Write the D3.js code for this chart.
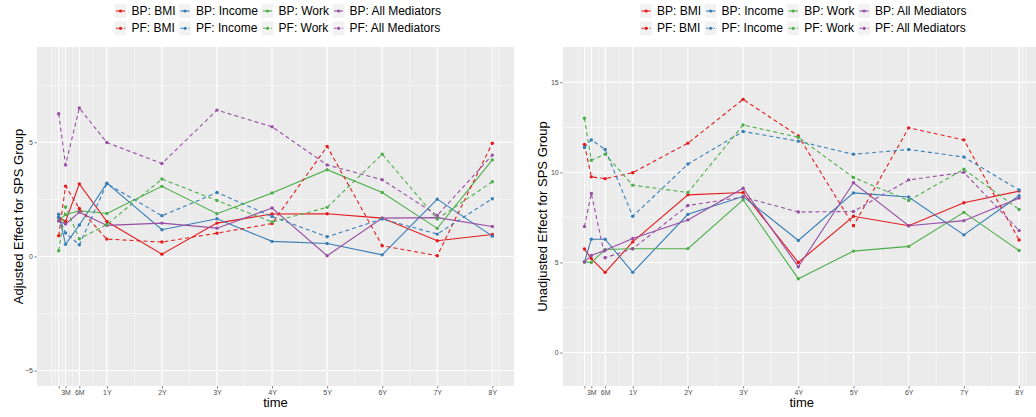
<!DOCTYPE html>
<html>
<head>
<meta charset="utf-8">
<script src="https://cdn.jsdelivr.net/npm/d3@7"></script>
<style>
  html, body { margin: 0; padding: 0; background: #fff; }
  svg { display: block; font-family: "Liberation Sans", Arial, Helvetica, sans-serif; }
</style>
</head>
<body>
<svg id="chart" width="1036" height="417"></svg>
<script>
// ---------------- data ----------------
const times = [0.125, 0.25, 0.5, 1, 2, 3, 4, 5, 6, 7, 8];
const timeLabels = ["", "3M", "6M", "1Y", "2Y", "3Y", "4Y", "5Y", "6Y", "7Y", "8Y"];

const seriesNames = ["BP: BMI", "BP: Income", "BP: Work", "BP: All Mediators",
                     "PF: BMI", "PF: Income", "PF: Work", "PF: All Mediators"];

// Adjusted effect (left panel)
const adjBP_BMI    = [1.72, 1.53, 3.18, 1.53, 0.10, 1.46, 1.86, 1.87, 1.68, 0.69, 0.96];
const adjBP_Income = [1.85, 0.53, 1.38, 3.21, 1.17, 1.65, 0.66, 0.57, 0.07, 2.51, 0.89];
const adjBP_Work   = [1.58, 1.83, 2.00, 1.88, 3.07, 1.87, 2.78, 3.80, 2.80, 1.23, 4.23];
const adjBP_All    = [1.55, 1.42, 1.94, 1.36, 1.46, 1.24, 2.12, 0.03, 1.68, 1.70, 1.31];
const adjPF_BMI    = [0.91, 3.08, 2.10, 0.76, 0.63, 1.02, 1.44, 4.82, 0.47, 0.03, 4.96];
const adjPF_Income = [1.72, 1.03, 0.51, 3.19, 1.78, 2.80, 1.75, 0.86, 1.64, 0.98, 2.53];
const adjPF_Work   = [0.25, 2.17, 0.77, 1.40, 3.39, 2.45, 1.51, 2.15, 4.48, 1.64, 3.27];
const adjPF_All    = [6.25, 4.01, 6.50, 4.99, 4.07, 6.41, 5.68, 4.01, 3.36, 1.80, 4.44];

// Unadjusted effect (right panel)
const unBP_BMI     = [5.75, 5.21, 4.45, 6.14, 8.75, 8.88, 5.00, 7.56, 7.04, 8.31, 8.96];
const unBP_Income  = [5.03, 6.29, 6.29, 4.45, 7.67, 8.66, 6.22, 8.86, 8.63, 6.53, 8.70];
const unBP_Work    = [5.03, 5.00, 5.72, 5.76, 5.77, 8.48, 4.10, 5.63, 5.89, 7.78, 5.66];
const unBP_All     = [5.03, 5.39, 5.68, 6.33, 7.36, 9.12, 4.76, 9.42, 7.04, 7.32, 8.57];
const unPF_BMI     = [11.55, 9.75, 9.65, 9.98, 11.62, 14.05, 12.02, 7.04, 12.47, 11.80, 6.25];
const unPF_Income  = [11.38, 11.80, 11.27, 7.56, 10.46, 12.27, 11.73, 11.00, 11.27, 10.85, 9.02];
const unPF_Work    = [13.00, 10.67, 11.01, 9.29, 8.88, 12.63, 11.95, 9.71, 8.44, 10.17, 7.94];
const unPF_All     = [6.99, 8.83, 5.26, 5.76, 8.16, 8.63, 7.80, 7.83, 9.58, 10.00, 6.77];

const adjTicks = [-5, 0, 5];
const unTicks = [0, 5, 10, 15];
const adjLimits = [-5, 8.5];
const unLimits = [-1, 16.1];

const colors = ["#E41A1C", "#377EB8", "#4DAF4A", "#984EA3", "#E41A1C", "#377EB8", "#4DAF4A", "#984EA3"];
const dashed = [false, false, false, false, true, true, true, true];

// ---------------- drawing ----------------
const svg = d3.select("#chart");

function minorBreaks(breaks, lim) {
  let b = breaks.slice();
  const bd = b[1] - b[0];
  if (lim[0] < b[0]) b.unshift(b[0] - bd);
  if (lim[1] > b[b.length - 1]) b.push(b[b.length - 1] + bd);
  const out = [];
  for (let i = 0; i < b.length - 1; i++) { out.push(b[i], (b[i] + b[i + 1]) / 2); }
  out.push(b[b.length - 1]);
  return out.filter(v => v >= lim[0] && v <= lim[1]);
}

function drawPanel(cfg) {
  const { left, right, top, bottom, values, yTicks, yLimits, yTitle } = cfg;
  const xr = [times[0], times[times.length - 1]];
  const xe = (xr[1] - xr[0]) * 0.05;
  const xDom = [xr[0] - xe, xr[1] + xe];
  const ye = (yLimits[1] - yLimits[0]) * 0.05;
  const yDom = [yLimits[0] - ye, yLimits[1] + ye];

  const x = d3.scaleLinear().domain(xDom).range([left, right]);
  const y = d3.scaleLinear().domain(yDom).range([bottom, top]);

  const g = svg.append("g");
  const clipId = "clip" + Math.round(left);
  svg.append("clipPath").attr("id", clipId).append("rect")
    .attr("x", left).attr("y", top).attr("width", right - left).attr("height", bottom - top);

  g.append("rect").attr("x", left).attr("y", top)
    .attr("width", right - left).attr("height", bottom - top).attr("fill", "#EBEBEB");

  const grid = g.append("g").attr("clip-path", `url(#${clipId})`);
  // minor grid
  grid.selectAll(".xminor").data(minorBreaks(times, xDom)).enter().append("line")
    .attr("x1", d => x(d)).attr("x2", d => x(d)).attr("y1", top).attr("y2", bottom)
    .attr("stroke", "#fff").attr("stroke-width", 0.5);
  grid.selectAll(".yminor").data(minorBreaks(yTicks, yDom)).enter().append("line")
    .attr("y1", d => y(d)).attr("y2", d => y(d)).attr("x1", left).attr("x2", right)
    .attr("stroke", "#fff").attr("stroke-width", 0.5);
  // major grid
  grid.selectAll(".xmajor").data(times).enter().append("line")
    .attr("x1", d => x(d)).attr("x2", d => x(d)).attr("y1", top).attr("y2", bottom)
    .attr("stroke", "#fff").attr("stroke-width", 1);
  grid.selectAll(".ymajor").data(yTicks).enter().append("line")
    .attr("y1", d => y(d)).attr("y2", d => y(d)).attr("x1", left).attr("x2", right)
    .attr("stroke", "#fff").attr("stroke-width", 1);

  // axes
  const xAxis = d3.axisBottom(x).tickValues(times)
    .tickFormat((d, i) => timeLabels[i]).tickSize(2.5).tickPadding(1.5);
  const xa = g.append("g").attr("transform", `translate(0,${bottom})`).call(xAxis);
  xa.select(".domain").remove();
  xa.selectAll("line").attr("stroke", "#333").attr("stroke-width", 0.6);
  xa.selectAll("text").attr("fill", "#4D4D4D").style("font-size", "7px")
    .style("font-family", "Liberation Sans, Arial, sans-serif");

  const yAxis = d3.axisLeft(y).tickValues(yTicks).tickSize(2.5).tickPadding(1.5);
  const ya = g.append("g").attr("transform", `translate(${left},0)`).call(yAxis);
  ya.select(".domain").remove();
  ya.selectAll("line").attr("stroke", "#333").attr("stroke-width", 0.6);
  ya.selectAll("text").attr("fill", "#4D4D4D").style("font-size", "7px")
    .style("font-family", "Liberation Sans, Arial, sans-serif");

  // titles
  const cx = (left + Math.min(right, 1041)) / 2;
  g.append("text").attr("x", cx).attr("y", 407).attr("text-anchor", "middle")
    .style("font-size", "13px").attr("fill", "#000").text("time");
  g.append("text").attr("transform", `translate(${cfg.yTitleX},${(top + bottom) / 2}) rotate(-90)`)
    .attr("text-anchor", "middle").attr("dominant-baseline", "central")
    .style("font-size", "13px").attr("fill", "#000").text(yTitle);

  // data
  const line = d3.line().x((d, i) => x(times[i])).y(d => y(d));
  const plot = g.append("g").attr("clip-path", `url(#${clipId})`);
  values.forEach((vals, k) => {
    plot.append("path").datum(vals).attr("d", line)
      .attr("fill", "none").attr("stroke", colors[k]).attr("stroke-width", 1.1)
      .attr("stroke-dasharray", dashed[k] ? "4,3" : null);
  });
  values.forEach((vals, k) => {
    plot.selectAll(null).data(vals).enter().append("circle")
      .attr("cx", (d, i) => x(times[i])).attr("cy", d => y(d)).attr("r", 1.7)
      .attr("fill", colors[k]);
  });

  // legend
  const leg = g.append("g");
  const keyW = 12, keyH = 14, keyGap = 5, colGap = 3.5;
  const rowY = [11, 28.3];
  // measure column widths
  const tmp = leg.append("text").style("font-size", "12px");
  const colW = [];
  for (let c = 0; c < 4; c++) {
    let w = 0;
    for (let r = 0; r < 2; r++) { tmp.text(seriesNames[r * 4 + c]); w = Math.max(w, tmp.node().getComputedTextLength()); }
    colW.push(keyW + keyGap + w);
  }
  tmp.remove();
  const totalW = d3.sum(colW) + colGap * 3;
  let startX = cfg.legendCenter - totalW / 2;
  let cxs = [];
  let acc = startX;
  for (let c = 0; c < 4; c++) { cxs.push(acc); acc += colW[c] + colGap; }
  for (let r = 0; r < 2; r++) {
    for (let c = 0; c < 4; c++) {
      const k = r * 4 + c;
      const kx = cxs[c], ky = rowY[r];
      leg.append("rect").attr("x", kx).attr("y", ky - keyH / 2).attr("width", keyW).attr("height", keyH)
        .attr("fill", "#F2F2F2");
      leg.append("line").attr("x1", kx + 1.5).attr("x2", kx + keyW - 1.5).attr("y1", ky).attr("y2", ky)
        .attr("stroke", colors[k]).attr("stroke-width", 1.1)
        .attr("stroke-dasharray", dashed[k] ? "2.5,1.5" : null);
      leg.append("circle").attr("cx", kx + keyW / 2).attr("cy", ky).attr("r", 1.6).attr("fill", colors[k]);
      leg.append("text").attr("x", kx + keyW + keyGap).attr("y", ky).attr("dominant-baseline", "central")
        .style("font-size", "12px").attr("fill", "#000").text(seriesNames[k]);
    }
  }
}

drawPanel({
  left: 37, right: 514, top: 47, bottom: 386,
  values: [adjBP_BMI, adjBP_Income, adjBP_Work, adjBP_All, adjPF_BMI, adjPF_Income, adjPF_Work, adjPF_All],
  yTicks: adjTicks, yLimits: adjLimits, yTitle: "Adjusted Effect for SPS Group",
  yTitleX: 18, legendCenter: 277.7
});
drawPanel({
  left: 562.7, right: 1040.8, top: 47, bottom: 386,
  values: [unBP_BMI, unBP_Income, unBP_Work, unBP_All, unPF_BMI, unPF_Income, unPF_Work, unPF_All],
  yTicks: unTicks, yLimits: unLimits, yTitle: "Unadjusted Effect for SPS Group",
  yTitleX: 542, legendCenter: 803.3
});
</script>
</body>
</html>
